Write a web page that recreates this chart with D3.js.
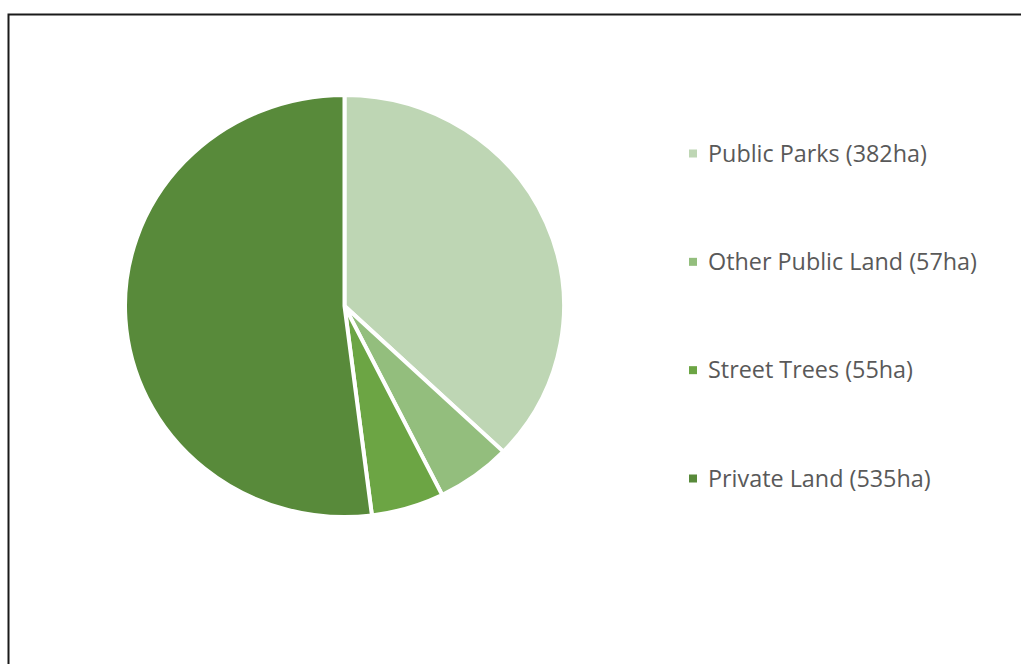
<!DOCTYPE html>
<html>
<head>
<meta charset="utf-8">
<script src="https://cdn.jsdelivr.net/npm/d3@7/dist/d3.min.js"></script>
<style>
  html, body { margin: 0; padding: 0; background: #fff; }
  svg { display: block; }
</style>
</head>
<body>
<svg id="chart" width="1021" height="664"></svg>
<script>
// Urban tree canopy by land type (hectares)
const categories = ["Public Parks", "Other Public Land", "Street Trees", "Private Land"];
const values = [382, 57, 55, 535];
const colors = ["#bed6b4", "#93be7d", "#6ca544", "#588a3a"];
const legendLabels = categories.map((c, i) => `${c} (${values[i]}ha)`);

const svg = d3.select("#chart");
const W = 1021, H = 664;

// chart frame
svg.append("rect")
  .attr("x", 8.5).attr("y", 14.5)
  .attr("width", W + 10).attr("height", H + 10)
  .attr("fill", "none")
  .attr("stroke", "#1a1a1a")
  .attr("stroke-width", 2);

// pie
const cx = 344.5, cy = 306, rx = 219.5, ry = 211;
const pie = d3.pie().sort(null).value(d => d.value);
const arc = d3.arc().innerRadius(0).outerRadius(rx);
const data = categories.map((c, i) => ({ name: c, value: values[i], color: colors[i] }));

const g = svg.append("g")
  .attr("transform", `translate(${cx},${cy}) scale(1,${ry / rx})`);
g.selectAll("path")
  .data(pie(data))
  .join("path")
  .attr("d", arc)
  .attr("fill", d => d.data.color)
  .attr("stroke", "#ffffff")
  .attr("stroke-width", 4)
  .attr("stroke-linejoin", "round");

// legend
const y = d3.scalePoint().domain(categories).range([153.5, 478.5]);
const legend = svg.append("g").attr("font-family", "'Open Sans', sans-serif");
const rows = legend.selectAll("g.row")
  .data(data)
  .join("g")
  .attr("class", "row")
  .attr("transform", d => `translate(0,${y(d.name)})`);
rows.append("rect")
  .attr("x", 689).attr("y", -4)
  .attr("width", 8).attr("height", 8)
  .attr("fill", d => d.color);
const labels = rows.append("text")
  .attr("x", 708)
  .attr("dy", "0.35em")
  .attr("font-size", 20)
  .attr("fill", "#595959")
  .text((d, i) => legendLabels[i]);

// size the legend font so the first entry spans about 219px
const w0 = labels.node().getComputedTextLength();
const fs = 20 * 219 / w0;
labels.attr("font-size", fs.toFixed(2));
</script>
</body>
</html>
